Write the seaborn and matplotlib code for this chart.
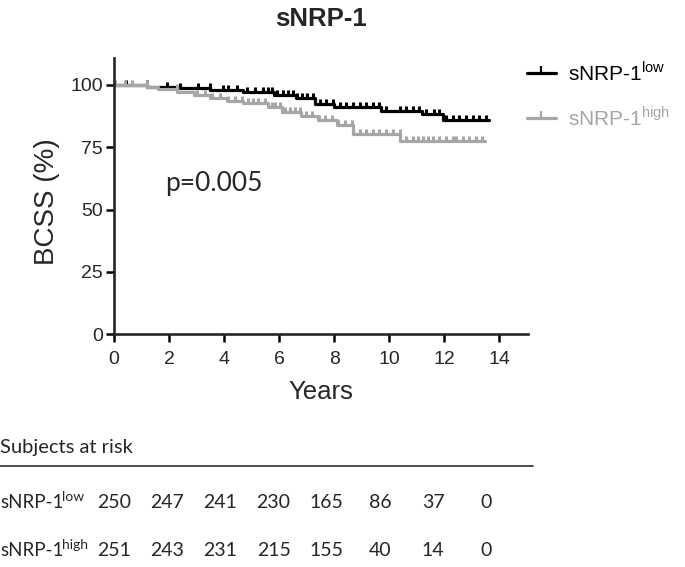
import numpy as np
import matplotlib
matplotlib.use("Agg")
import matplotlib.pyplot as plt
from matplotlib.lines import Line2D
import seaborn as sns

# Kaplan-Meier steps (years, BCSS %)
low_t = [0, 1.2, 2.4, 3.5, 4.7, 5.8, 6.6, 7.3, 8.0, 9.7, 11.2, 11.95, 13.65]
low_s = [100, 99.3, 98.7, 98.0, 97.0, 96.0, 94.6, 92.2, 91.2, 89.6, 88.5, 86.0, 86.0]
high_t = [0, 1.2, 1.6, 2.3, 2.9, 3.5, 4.1, 4.7, 5.6, 6.1, 6.8, 7.4, 8.1, 8.7, 10.4, 13.5]
high_s = [100, 99.3, 98.4, 97.3, 96.0, 94.7, 93.6, 92.6, 91.3, 89.3, 87.6, 86.0, 84.0, 80.2, 77.4, 77.4]

# censoring ticks (years)
low_cens = [0.45, 1.19, 1.91, 2.40, 3.06, 3.49, 3.97, 4.15, 4.46, 4.82, 5.12, 5.43, 5.61,
            5.73, 5.91, 6.15, 6.33, 6.52, 6.64, 6.82, 7.0, 7.24, 7.48, 7.72, 7.96, 8.2,
            8.45, 8.69, 8.93, 9.17, 9.41, 9.65, 9.9, 10.38, 10.62, 10.86, 11.1, 11.35,
            11.65, 11.83, 12.07, 12.31, 12.55, 12.8, 13.04, 13.28, 13.52]
high_cens = [0.04, 0.4, 0.64, 1.19, 2.28, 3.0, 3.3, 3.55, 3.85, 4.15, 4.4, 4.64, 4.88,
             5.06, 5.24, 5.49, 5.73, 5.85, 6.03, 6.21, 6.39, 6.57, 6.75, 6.99, 7.2, 7.44,
             7.68, 7.92, 8.16, 8.4, 8.64, 8.93, 9.17, 9.41, 9.65, 9.9, 10.14, 10.38,
             10.62, 10.86, 11.04, 11.22, 11.4, 11.58, 11.83, 12.07, 12.31, 12.43, 12.67,
             12.91, 13.15, 13.39]

# numbers at risk
risk_years = [0, 2, 4, 6, 8, 10, 12, 14]
low_risk = [250, 247, 241, 230, 165, 86, 37, 0]
high_risk = [251, 243, 231, 215, 155, 40, 14, 0]

groups = ["low", "high"]
colors = {"low": "black", "high": "#a6a6a6"}

sns.set_style("ticks")
plt.rcParams["font.family"] = ["Liberation Sans", "DejaVu Sans"]

fig = plt.figure(figsize=(6.85, 5.67), dpi=100)
ax = fig.add_axes([114 / 685, 1 - 334.3 / 567, 414 / 685, 276.3 / 567])


def surv_at(times, steps_t, steps_s):
    idx = np.searchsorted(steps_t, times, side="right") - 1
    return np.asarray(steps_s)[idx]


curves = {"low": (low_t, low_s, low_cens), "high": (high_t, high_s, high_cens)}
for g in groups:
    t, s, c = curves[g]
    sns.lineplot(x=t, y=s, ax=ax, drawstyle="steps-post", color=colors[g], lw=2.3)
    ax.plot(c, surv_at(c, t, s), ls="none", marker=2, ms=3.5, mew=2.2, color=colors[g])

ax.set_xlim(0, 15.05)
ax.set_ylim(0, 110.8)
ax.set_xticks(risk_years)
ax.set_yticks([0, 25, 50, 75, 100])
ax.tick_params(axis="both", labelsize=14, width=1.8, length=6, color="black")
ax.tick_params(axis="x", pad=6)
ax.tick_params(axis="y", pad=2)
for sp in ["left", "bottom"]:
    ax.spines[sp].set_linewidth(1.9)
sns.despine(ax=ax)

ax.set_xlabel("Years", fontsize=18.5)
ax.set_ylabel("BCSS (%)", fontsize=20)
ax.xaxis.set_label_coords(0.5, -0.165)
ax.yaxis.set_label_coords(-0.13, 0.48)

ax.text(1.85, 60.5, "p=0.005", fontsize=19, family=["Lato", "DejaVu Sans"],
        ha="left", va="center")

fig.text(321 / 685, 1 - 18.5 / 567, "sNRP-1", fontsize=18.5, fontweight="bold",
         ha="center", va="center")

handles = [Line2D([0], [0], color=colors[g], lw=2.3, marker=2, ms=5, mew=1.6) for g in groups]
labels = [r"sNRP-1$^{\mathregular{low}}$", r"sNRP-1$^{\mathregular{high}}$"]
fig.legend(handles, labels, loc="upper left", bbox_to_anchor=(508 / 685, 1 - 42 / 567),
           frameon=False, fontsize=15, handlelength=1.4, handletextpad=0.6,
           labelspacing=1.0, labelcolor=[colors[g] for g in groups])

# subjects at risk table
tab = fig.add_axes([0, 0, 1, 167 / 567])
tab.set_xlim(-114 / 26.6, (685 - 114) / 26.6)
tab.set_ylim(567, 400)
tab.axis("off")
tfont = ["Lato", "DejaVu Sans"]
tab.text(-114 / 26.6, 447, "Subjects at risk", fontsize=14.5, family=tfont, va="center")
tab.axhline(466, xmin=0, xmax=533 / 685, color="#404040", lw=1.3)
rows = [("low", low_risk, 502), ("high", high_risk, 550)]
for sup, vals, yy in rows:
    base = tab.text(-114 / 26.6, yy, "sNRP-1", fontsize=13.5, family=tfont, va="center")
    tab.annotate(sup, xy=(0.97, 0.42), xycoords=base, fontsize=10, family=tfont,
                 ha="left", va="bottom")
    for yr, v in zip(risk_years, vals):
        tab.text(yr, yy, str(v), fontsize=14, family=tfont, ha="center", va="center")

fig.savefig("out.png", dpi=100)
